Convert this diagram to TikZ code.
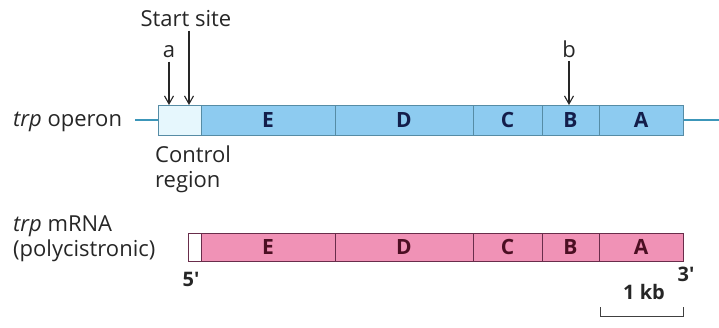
\documentclass[tikz,border=0pt]{standalone}
\usepackage{fontspec}
\setmainfont{Open Sans}
\usetikzlibrary{arrows.meta}
\definecolor{opblue}{RGB}{141,203,240}
\definecolor{opedge}{RGB}{86,140,165}
\definecolor{ctrlfill}{RGB}{230,247,253}
\definecolor{dnaline}{RGB}{60,150,185}
\definecolor{mpink}{RGB}{240,146,182}
\definecolor{medge}{RGB}{105,45,75}
\definecolor{navy}{RGB}{20,30,75}
\definecolor{maroon}{RGB}{75,15,35}
\tikzset{
    every node/.style={font=\fontsize{22}{25}\selectfont, text=black!85}
}
\tikzset{
    opseg/.style={draw=opedge, fill=opblue, line width=.8pt, minimum height=30pt,
    	inner sep=0pt, font=\fontsize{21}{25}\selectfont\bfseries, text=navy},
    mseg/.style={draw=medge, fill=mpink, line width=.8pt, minimum height=28pt,
    	inner sep=0pt, font=\fontsize{21}{25}\selectfont\bfseries, text=maroon},
    arr/.style={-{Straight Barb[length=8pt,width=9pt]}, line width=1.1pt, black!85},
    tag/.style={font=\fontsize{20}{24}\selectfont\bfseries}
}

\begin{document}
\begin{tikzpicture}[x=1pt,y=-1pt]
  \useasboundingbox (0,0) rectangle (719,328);
  % operon
  \coordinate (dnaL) at (135,120);
  \coordinate (dnaR) at (719,120);
  \draw [dnaline, line width=2pt] (dnaL) -- (dnaR);
  \node (opCtrl) [opseg, fill=ctrlfill, minimum width=43pt] at (179.5,120) {};
  \node (opE) [opseg, minimum width=134pt] at (268,120) {E};
  \node (opD) [opseg, minimum width=138pt] at (404,120) {D};
  \node (opC) [opseg, minimum width=69pt] at (507.5,120) {C};
  \node (opB) [opseg, minimum width=57pt] at (570.5,120) {B};
  \node (opA) [opseg, minimum width=84pt] at (641,120) {A};
  \node (operon) [anchor=base west, inner sep=0pt] at (13,127) {\textit{trp} operon};
  \node (ctrl) [anchor=north west, align=left, inner sep=0pt] at (155,146) {Control\\region};

  % sites
  \node (start) at (186,19) {Start site};
  \node (a) at (169,52) {a};
  \node (b) at (569,49) {b};
  \coordinate (tipS) at (189,105);
  \coordinate (tipA) at (169,105);
  \coordinate (tipB) at (569,105);
  \draw [arr] (start.south -| tipS) -- (tipS);
  \draw [arr] (a) -- (tipA);
  \draw [arr] (b) -- (tipB);

  % mRNA
  \node (m5) [mseg, fill=white, minimum width=13pt] at (194.5,247) {};
  \node (mE) [mseg, minimum width=134pt] at (268,247) {E};
  \node (mD) [mseg, minimum width=138pt] at (404,247) {D};
  \node (mC) [mseg, minimum width=69pt] at (507.5,247) {C};
  \node (mB) [mseg, minimum width=57pt] at (570.5,247) {B};
  \node (mA) [mseg, minimum width=84pt] at (641,247) {A};
  \node (mrna) [anchor=north west, align=left, inner sep=0pt] at (13,216) {\textit{trp} mRNA\\(polycistronic)};
  \node (five) [tag] at (191,279) {5\textquotesingle};
  \node (three) [tag] at (686,274) {3\textquotesingle};

  % scale
  \node (kb) [tag] at (644,292) {1 kb};
  \coordinate (kbL) at (600,316);
  \coordinate (kbR) at (683,316);
  \draw [black!75, line width=1pt] (kbL) ++(0,-9) -- (kbL) -- (kbR) -- ++(0,-9);
\end{tikzpicture}
\end{document}
